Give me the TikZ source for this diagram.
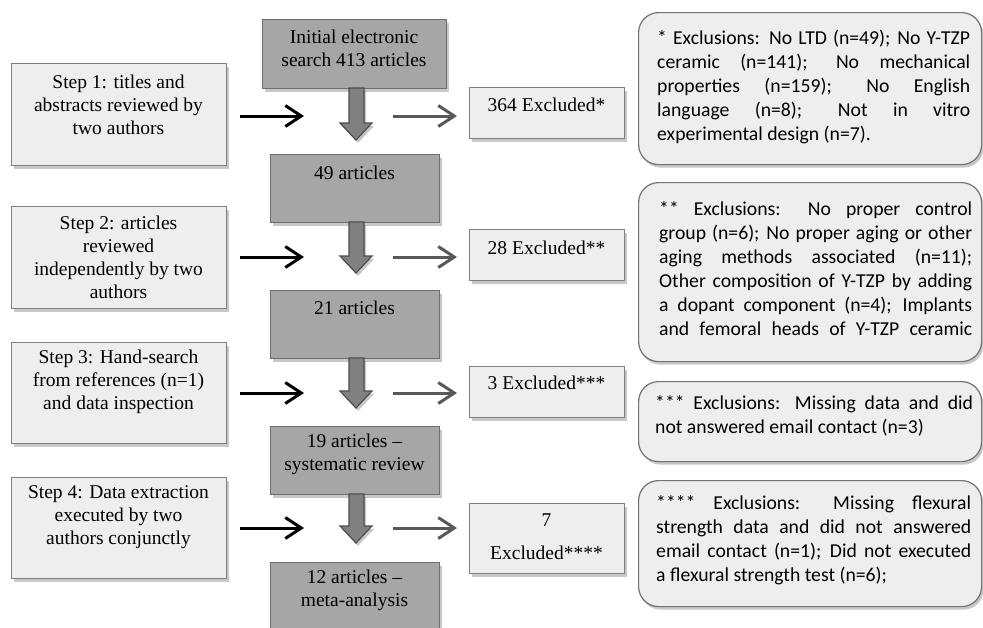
\documentclass[tikz,border=0pt]{standalone}
\usepackage{fontspec}
\setmainfont{Liberation Serif}
\newfontfamily\calib{Carlito}
\usetikzlibrary{arrows.meta,shadows}
\definecolor{lightfill}{HTML}{EEEEEE}
\definecolor{lightdraw}{HTML}{7F7F7F}
\definecolor{darkfill}{HTML}{A6A6A6}
\definecolor{darkdraw}{HTML}{6E6E6E}
\definecolor{arrfill}{HTML}{808080}
\definecolor{arrdraw}{HTML}{4D4D4D}
\definecolor{greyarr}{HTML}{595959}
\definecolor{rdraw}{HTML}{737373}
\newcommand{\blkarrow}[3]{%
  \draw[barrow] (349,#1) -- (364,#1) -- (364,#2) -- (372,#2) -- (356,#3) -- (340,#2) -- (349,#2) -- cycle;}
\begin{document}
\begin{tikzpicture}[x=1pt,y=-1pt,
  shad/.style={drop shadow={shadow xshift=2pt,shadow yshift=-3pt,opacity=0.3,fill=black!70}},
  lbox/.style={draw=lightdraw,fill=lightfill,line width=1.2pt,inner sep=0pt,anchor=north west,shad},
  dbox/.style={draw=darkdraw,fill=darkfill,line width=1.2pt,inner sep=0pt,anchor=north west,shad},
  rbox/.style={draw=rdraw,fill=lightfill,rounded corners=20pt,line width=1.2pt,inner sep=0pt,anchor=north west,shad},
  stxt/.style={font=\fontsize{19.5}{23}\selectfont,align=center,inner sep=0pt},
  ctxt/.style={font=\calib\fontsize{19.7}{24}\selectfont,text width=313pt,align=justify,inner sep=0pt,anchor=west},
  blk/.style={line width=3pt,black,-{Straight Barb[length=16pt,width=21pt]}},
  gry/.style={line width=3pt,greyarr,-{Straight Barb[length=16pt,width=21pt]}},
  barrow/.style={draw=arrdraw,fill=arrfill,line width=1.2pt,line join=miter,shad}]
\useasboundingbox (0,0) rectangle (983,627);
\clip (0,0) rectangle (983,627);
\fill[white] (0,0) rectangle (983,627);

% step boxes
\node[lbox,minimum width=215pt,minimum height=102pt] (s1) at (11,63) {};
\node[lbox,minimum width=215pt,minimum height=102pt] (s2) at (11,206) {};
\node[lbox,minimum width=215pt,minimum height=101pt] (s3) at (11,342) {};
\node[lbox,minimum width=215pt,minimum height=101pt] (s4) at (11,477) {};
\node[stxt] (s1t) at (118.5,105) {Step 1: titles and\\abstracts reviewed by\\two authors};
\node[stxt] (s2t) at (118.5,257) {Step 2: articles\\reviewed\\independently by two\\authors};
\node[stxt] (s3t) at (118.5,382) {Step 3: Hand-search\\from references (n=1)\\and data inspection};
\node[stxt] (s4t) at (118.5,517) {Step 4: Data extraction\\executed by two\\authors conjunctly};

% dark boxes
\node[dbox,minimum width=184pt,minimum height=69pt] (b0) at (262,19) {};
\node[dbox,minimum width=169pt,minimum height=68pt] (b1) at (270,154) {};
\node[dbox,minimum width=169pt,minimum height=68pt] (b2) at (270,290) {};
\node[dbox,minimum width=169pt,minimum height=68pt] (b3) at (270,426) {};
\node[dbox,minimum width=169pt,minimum height=80pt] (b4) at (270,562) {};
\node[stxt] (b0t) at (354,48.5) {Initial electronic\\search 413 articles};
\node[stxt] (b1t) at (354.5,173) {49 articles};
\node[stxt] (b2t) at (354.5,308) {21 articles};
\node[stxt] (b3t) at (354.5,454.5) {19 articles --\\systematic review};
\node[stxt] (b4t) at (354.5,590) {12 articles --\\meta-analysis};

% block arrows
\blkarrow{88}{123}{140}
\blkarrow{222}{256}{273}
\blkarrow{358}{391}{408}
\blkarrow{494}{526}{543}

% excluded boxes
\node[lbox,minimum width=155pt,minimum height=51pt] (e1) at (469,87) {};
\node[lbox,minimum width=155pt,minimum height=51pt] (e2) at (469,229) {};
\node[lbox,minimum width=155pt,minimum height=51pt] (e3) at (469,366) {};
\node[lbox,minimum width=155pt,minimum height=70pt] (e4) at (469,503) {};
\node[stxt] (e1t) at (546.5,105) {364 Excluded*};
\node[stxt] (e2t) at (546.5,248) {28 Excluded**};
\node[stxt] (e3t) at (546.5,383) {3 Excluded***};
\node[stxt] (e4t) at (546.5,536.5) {7\\[10pt]Excluded****};

% arrows
\foreach \i/\yy in {1/116,2/257,3/393,4/528}{
  \coordinate (k\i s) at (240,\yy);
  \coordinate (k\i e) at (304,\yy);
  \coordinate (g\i s) at (393,\yy);
  \coordinate (g\i e) at (457,\yy);
  \draw[blk] (k\i s) -- (k\i e);
  \draw[gry] (g\i s) -- (g\i e);
}

% rounded note boxes
\node[rbox,minimum width=343pt,minimum height=152pt] (r1) at (638,12) {};
\node[rbox,minimum width=343pt,minimum height=179pt] (r2) at (638,182) {};
\node[rbox,minimum width=343pt,minimum height=80pt] (r3) at (638,381) {};
\node[rbox,minimum width=343pt,minimum height=126pt] (r4) at (638,480) {};

\node[ctxt] (r1t) at (657,86.5) {* Exclusions: No LTD (n=49); No Y-TZP\linebreak ceramic (n=141); No mechanical\linebreak properties (n=159); No English\linebreak language (n=8); Not in vitro\linebreak experimental design (n=7).};
\node[ctxt] (r2t) at (659,269) {** Exclusions: No proper control\linebreak group (n=6); No proper aging or other\linebreak aging methods associated (n=11);\linebreak Other composition of Y-TZP by adding\linebreak a dopant component (n=4); Implants\linebreak and femoral heads of Y-TZP ceramic\parfillskip=0pt\par};
\node[ctxt,text width=318pt] (r3t) at (655,415.5) {*** Exclusions: Missing data and did\linebreak not answered email contact (n=3)};
\node[ctxt,text width=315pt] (r4t) at (656,540.5) {**** Exclusions: Missing flexural\linebreak strength data and did not answered\linebreak email contact (n=1); Did not executed\linebreak a flexural strength test (n=6);};
\end{tikzpicture}
\end{document}
